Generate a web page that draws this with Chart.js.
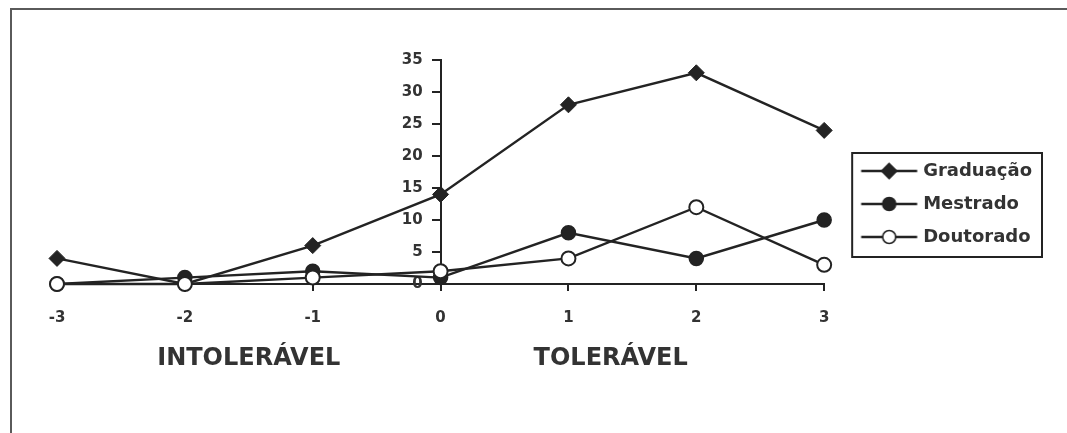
<!DOCTYPE html>
<html>
<head>
<meta charset="utf-8">
<script src="https://cdn.jsdelivr.net/npm/chart.js@4.4.1/dist/chart.umd.min.js"></script>
<style>
  html, body { margin: 0; padding: 0; background: #fff; }
  #wrap { width: 1067px; height: 433px; position: relative; }
</style>
</head>
<body>
<div id="wrap"><canvas id="myChart"></canvas></div>
<script>
var categories = ["-3", "-2", "-1", "0", "1", "2", "3"];
var graduacao = [4, 0, 6, 14, 28, 33, 24];
var mestrado = [0, 1, 2, 1, 8, 4, 10];
var doutorado = [0, 0, 1, 2, 4, 12, 3];
var yTicks = [0, 5, 10, 15, 20, 25, 30, 35];
var zoneLabels = ["INTOLERÁVEL", "TOLERÁVEL"];

var ink = "#232323";
var txt = "#333333";
var fontName = "'DejaVu Sans', sans-serif";

// legend sample: line with the marker in the middle
function legendSample(style, fill) {
  var c = document.createElement('canvas');
  c.width = 100; c.height = 20;
  var g = c.getContext('2d');
  g.strokeStyle = ink; g.lineWidth = 2.4;
  g.beginPath(); g.moveTo(34.5, 10); g.lineTo(90.5, 10); g.stroke();
  g.fillStyle = fill; g.lineWidth = 1.6;
  g.beginPath();
  if (style == 'diamond') {
    g.moveTo(62.5, 2.5); g.lineTo(70, 10); g.lineTo(62.5, 17.5); g.lineTo(55, 10);
    g.closePath();
  } else {
    g.arc(62.5, 10, 6.5, 0, Math.PI * 2);
  }
  g.fill(); g.stroke();
  return c;
}
var samples = [legendSample('diamond', ink), legendSample('circle', ink), legendSample('circle', '#fff')];

var decor = {
  id: 'decor',
  beforeDraw: function(chart) {
    var ctx = chart.ctx;
    ctx.save();
    ctx.fillStyle = '#fff';
    ctx.fillRect(0, 0, chart.width, chart.height);
    ctx.strokeStyle = '#5a5a5a';
    ctx.lineWidth = 2;
    ctx.beginPath();
    ctx.moveTo(11, chart.height); ctx.lineTo(11, 9); ctx.lineTo(chart.width, 9);
    ctx.stroke();
    ctx.restore();
  },
  afterDraw: function(chart) {
    var ctx = chart.ctx;
    var x = chart.scales.x;
    ctx.save();
    ctx.fillStyle = txt;
    ctx.font = "bold 24px " + fontName;
    ctx.textAlign = 'center';
    ctx.textBaseline = 'middle';
    ctx.fillText(zoneLabels[0], x.getPixelForValue(1.5), 359);
    ctx.fillText(zoneLabels[1], x.getPixelForValue(4.33), 359);
    // legend frame
    var lg = chart.legend;
    var hb = lg.legendHitBoxes;
    if (hb && hb.length) {
      var last = hb[hb.length - 1];
      ctx.strokeStyle = ink;
      ctx.lineWidth = 2;
      ctx.strokeRect(lg.left + 28, hb[0].top - 9, lg.right - lg.left - 28, last.top + last.height + 11 - (hb[0].top - 9));
    }
    ctx.restore();
  }
};

var ctx = document.getElementById('myChart').getContext('2d');
var myChart = new Chart(ctx, {
  type: 'line',
  data: {
    labels: categories,
    datasets: [{
      label: 'Graduação',
      data: graduacao,
      borderColor: ink, backgroundColor: ink,
      borderWidth: 2.4,
      pointStyle: 'rectRot', pointRadius: 8, pointBorderWidth: 1,
      pointBackgroundColor: ink, pointBorderColor: ink,
      order: 2
    }, {
      label: 'Mestrado',
      data: mestrado,
      borderColor: ink, backgroundColor: ink,
      borderWidth: 2.4,
      pointStyle: 'circle', pointRadius: 7, pointBorderWidth: 1.5,
      pointBackgroundColor: ink, pointBorderColor: ink,
      order: 1
    }, {
      label: 'Doutorado',
      data: doutorado,
      borderColor: ink, backgroundColor: '#fff',
      borderWidth: 2.4,
      pointStyle: 'circle', pointRadius: 7, pointBorderWidth: 2,
      pointBackgroundColor: '#fff', pointBorderColor: ink,
      order: 0
    }]
  },
  options: {
    responsive: true,
    maintainAspectRatio: false,
    animation: false,
    clip: false,
    layout: { padding: { left: 57, top: 60, right: 25, bottom: 85 } },
    plugins: {
      tooltip: { enabled: false },
      legend: {
        position: 'right',
        labels: {
          usePointStyle: true,
          pointStyleWidth: 75,
          boxHeight: 18,
          padding: 15,
          color: txt,
          font: { family: fontName, size: 18, weight: 'bold' },
          generateLabels: function(chart) {
            var items = Chart.defaults.plugins.legend.labels.generateLabels(chart);
            items.sort(function(a, b) { return a.datasetIndex - b.datasetIndex; });
            items.forEach(function(it) { it.pointStyle = samples[it.datasetIndex]; });
            return items;
          }
        }
      }
    },
    scales: {
      x: {
        type: 'category',
        offset: false,
        grid: { display: true, drawOnChartArea: false, drawTicks: true, tickLength: 7, color: ink, lineWidth: 2 },
        border: { display: true, color: ink, width: 2 },
        ticks: { color: txt, padding: 18, font: { family: fontName, size: 15, weight: 'bold' } },
        afterFit: function(s) { s.height = 64; }
      },
      y: {
        position: { x: '0' },
        min: 0, max: 35,
        afterBuildTicks: function(s) { s.ticks = yTicks.map(function(v) { return { value: v }; }); },
        grid: { display: true, drawOnChartArea: false, drawTicks: true, tickLength: 8, color: ink, lineWidth: 2 },
        border: { display: true, color: ink, width: 2 },
        ticks: {
          color: txt,
          font: { family: fontName, size: 15, weight: 'bold' },
          // labels of an axis placed inside the chart sit on the axis line, so pad them to the left
          callback: function(v) { return v + '\u2007\u2002'; }
        }
      }
    }
  },
  plugins: [decor]
});
</script>
</body>
</html>
